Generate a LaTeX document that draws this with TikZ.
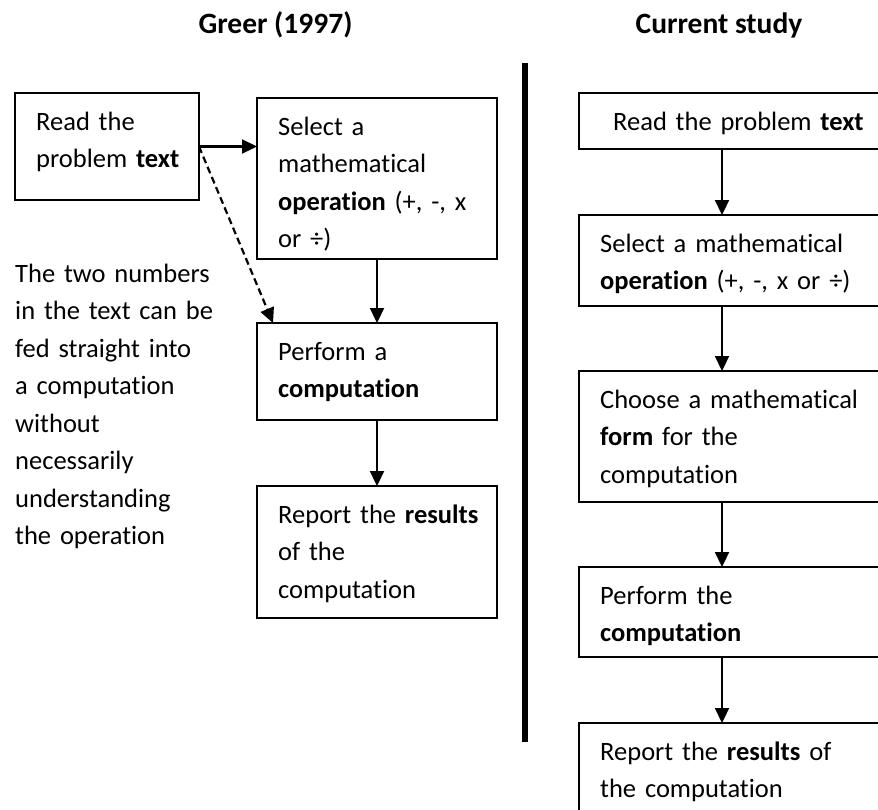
\documentclass[tikz,border=0pt]{standalone}
\usepackage{fontspec}
\setmainfont{Carlito}[Ligatures={TeX,NoCommon}]
\usetikzlibrary{arrows.meta,calc}
\begin{document}
\begin{tikzpicture}[x=1pt,y=-1pt,
  stage/.style={draw, line width=1.8pt, rectangle, inner sep=0pt, outer sep=0pt, anchor=north west},
  plaintext/.style={anchor=north west, inner sep=0pt, text width=320pt, align=left,
    font=\fontsize{26.5}{37.5}\selectfont\frenchspacing, execute at begin node=\strut},
  boxtext/.style={plaintext, yshift=-10.75pt, xshift=#1},
  boxtext/.default=21pt,
  flow/.style={line width=2.2pt, -{Triangle[length=15pt,width=14pt]}},
  shortcut/.style={flow, dash pattern=on 7pt off 4pt},
  heading/.style={anchor=base, inner sep=0pt, font=\fontsize{29.5}{34}\selectfont\bfseries},
]
\useasboundingbox (0,0) rectangle (878,809);
\clip (0,0) rectangle (878,809);
\fill[white] (0,0) rectangle (878,809);

% column headings
\node[heading] (hGreer) at (275.5,33) {Greer (1997)};
\node[heading] (hCurrent) at (719,33) {Current study};

% Greer (1997) model
\node[stage, minimum width=184pt, minimum height=107pt] (A) at (15,93) {};
\node[stage, minimum width=240pt, minimum height=161pt] (B) at (257,98) {};
\node[stage, minimum width=240pt, minimum height=97pt]  (C) at (257,323) {};
\node[stage, minimum width=240pt, minimum height=132pt] (D) at (257,486) {};

\node[boxtext] (tA) at (A.north west) {Read the\\problem \textbf{text}};
\node[boxtext] (tB) at (B.north west) {Select a\\mathematical\\\textbf{operation} (+, -, x\\or ÷)};
\node[boxtext] (tC) at (C.north west) {Perform a\\\textbf{computation}};
\node[boxtext] (tD) at (D.north west) {Report the \textbf{results}\\of the\\computation};

\node[plaintext, text width=220pt] (note) at (15,255.75)
  {The two numbers\\in the text can be\\fed straight into\\a computation\\without\\necessarily\\understanding\\the operation};

\coordinate (Cin) at ($(C.north west)+(16,0)$);
\draw[flow] (A.east) -- (A.east -| B.west);
\draw[shortcut] (A.east) -- (Cin);
\draw[flow] (B.south) -- (C.north);
\draw[flow] (C.south) -- (D.north);

% divider between the two models
\coordinate (divTop) at (525,63);
\coordinate (divBot) at (525,742);
\draw[line width=6pt] (divTop) -- (divBot);

% current study model
\node[stage, minimum width=330pt, minimum height=56pt]  (R1) at (579,93) {};
\node[stage, minimum width=330pt, minimum height=91pt]  (R2) at (579,215) {};
\node[stage, minimum width=330pt, minimum height=131pt] (R3) at (579,371) {};
\node[stage, minimum width=330pt, minimum height=90pt]  (R4) at (579,567) {};
\node[stage, minimum width=330pt, minimum height=130pt] (R5) at (579,723) {};

\node[boxtext=34pt] (tR1) at (R1.north west) {Read the problem \textbf{text}};
\node[boxtext] (tR2) at (R2.north west) {Select a mathematical\\\textbf{operation} (+, -, x or ÷)};
\node[boxtext] (tR3) at (R3.north west) {Choose a mathematical\\\textbf{form} for the\\computation};
\node[boxtext] (tR4) at (R4.north west) {Perform the\\\textbf{computation}};
\node[boxtext] (tR5) at (R5.north west) {Report the \textbf{results} of\\the computation};

\draw[flow] ($(R1.south west)+(143,0)$) -- ($(R2.north west)+(143,0)$);
\draw[flow] ($(R2.south west)+(143,0)$) -- ($(R3.north west)+(143,0)$);
\draw[flow] ($(R3.south west)+(143,0)$) -- ($(R4.north west)+(143,0)$);
\draw[flow] ($(R4.south west)+(143,0)$) -- ($(R5.north west)+(143,0)$);
\end{tikzpicture}
\end{document}
